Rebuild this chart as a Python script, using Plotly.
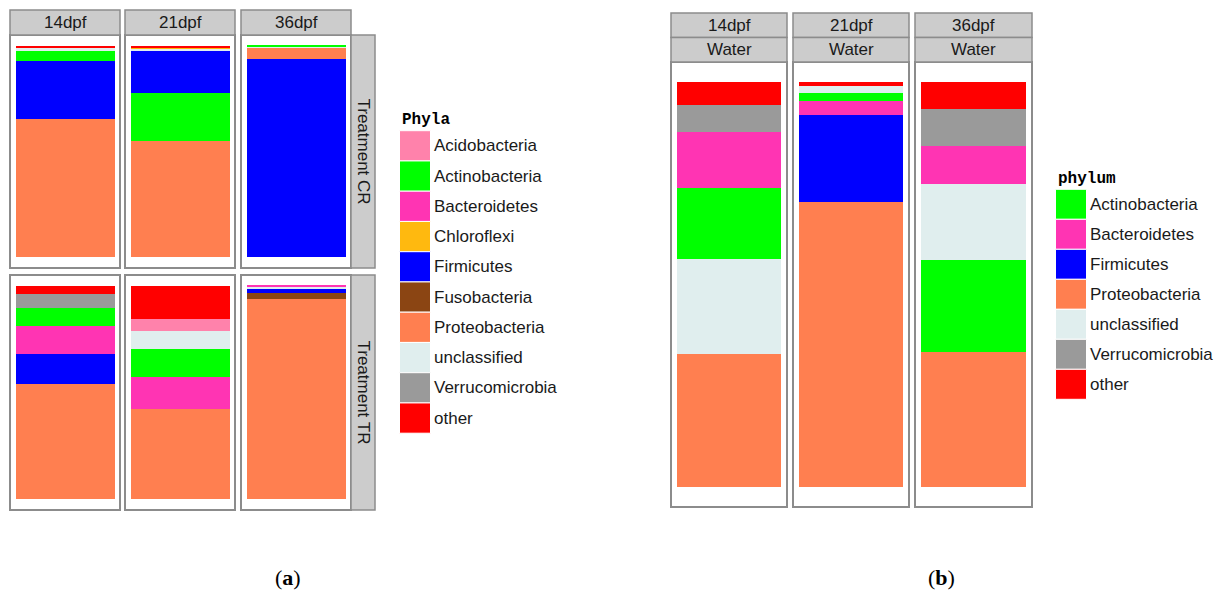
import plotly.graph_objects as go

W, H = 1220, 592

# Phylum palette and legend order
phyla_a = ["Acidobacteria", "Actinobacteria", "Bacteroidetes", "Chloroflexi", "Firmicutes",
           "Fusobacteria", "Proteobacteria", "unclassified", "Verrucomicrobia", "other"]
phyla_b = ["Actinobacteria", "Bacteroidetes", "Firmicutes", "Proteobacteria",
           "unclassified", "Verrucomicrobia", "other"]
phylum_colors = {
    "Acidobacteria": "#FF82AB",
    "Actinobacteria": "#00FF00",
    "Bacteroidetes": "#FF34B3",
    "Chloroflexi": "#FFB90F",
    "Firmicutes": "#0000FF",
    "Fusobacteria": "#8B4513",
    "Proteobacteria": "#FF7F50",
    "unclassified": "#E0EEEE",
    "Verrucomicrobia": "#9A9A9A",
    "other": "#FF0000",
}

days = ["14dpf", "21dpf", "36dpf"]
treatments = ["Treatment CR", "Treatment TR"]

# Relative abundance (%), values follow phyla_a order
cr_14dpf = [0, 5.1, 0, 0, 27.1, 0, 65.4, 1.2, 0, 1.2]
cr_21dpf = [0, 22.4, 0, 0.7, 20.2, 0, 55.0, 0.8, 0, 0.9]
cr_36dpf = [0, 0.4, 0, 0, 93.5, 0, 5.6, 0.5, 0, 0]
tr_14dpf = [0, 8.7, 12.8, 0, 14.3, 0, 53.9, 0, 6.5, 3.8]
tr_21dpf = [5.6, 13.1, 15.0, 0, 0, 0, 42.1, 8.4, 0, 15.8]
tr_36dpf = [0, 0, 0.5, 0, 1.9, 2.8, 93.9, 0.9, 0, 0]

# Relative abundance (%) in water samples, values follow phyla_b order
water_14dpf = [17.6, 13.8, 0, 32.8, 23.5, 6.7, 5.6]
water_21dpf = [2.1, 3.3, 21.5, 70.5, 1.6, 0, 1.0]
water_36dpf = [22.6, 9.4, 0, 33.4, 18.8, 9.1, 6.7]

text_col = "#1A1A1A"
strip_fill = "#CCCCCC"
frame_col = "#8C8C8C"
label_font = dict(family="Liberation Sans, Arial, sans-serif", size=17, color=text_col)

# panel boxes in pixels: (values, phyla, x0, x1, y0, y1)
cols_a = [(10, 120), (125, 235), (241, 351)]
rows_a = [(35, 268), (275, 510)]
cols_b = [(671, 787), (793, 909), (915, 1032)]
row_b = (62, 507)

panels = []
for r, row_vals in enumerate([[cr_14dpf, cr_21dpf, cr_36dpf], [tr_14dpf, tr_21dpf, tr_36dpf]]):
    for c, vals in enumerate(row_vals):
        panels.append((vals, phyla_a, cols_a[c][0], cols_a[c][1], rows_a[r][0], rows_a[r][1]))
for c, vals in enumerate([water_14dpf, water_21dpf, water_36dpf]):
    panels.append((vals, phyla_b, cols_b[c][0], cols_b[c][1], row_b[0], row_b[1]))


def stack_order(vals, names):
    """Most abundant phylum at the bottom, 'other' always on top."""
    pairs = [(n, v) for n, v in zip(names, vals) if v > 0]
    main = sorted([p for p in pairs if p[0] != "other"], key=lambda p: -p[1])
    rest = [p for p in pairs if p[0] == "other"]
    return main + rest


fig = go.Figure()
layout_axes = {}
shapes = []
annotations = []

for i, (vals, names, x0, x1, y0, y1) in enumerate(panels, start=1):
    xa = "x" if i == 1 else f"x{i}"
    ya = "y" if i == 1 else f"y{i}"
    for name, v in stack_order(vals, names):
        fig.add_trace(go.Bar(
            x=[0], y=[v], width=0.9, name=name,
            marker=dict(color=phylum_colors[name], line=dict(width=0)),
            xaxis=xa, yaxis=ya, showlegend=False,
        ))
    layout_axes[f"xaxis{'' if i == 1 else i}"] = dict(
        domain=[x0 / W, x1 / W], range=[-0.5, 0.5], visible=False,
        anchor=ya, fixedrange=True)
    layout_axes[f"yaxis{'' if i == 1 else i}"] = dict(
        domain=[1 - y1 / H, 1 - y0 / H], range=[-5, 105], visible=False,
        anchor=xa, fixedrange=True)
    shapes.append(dict(type="rect", xref="paper", yref="paper",
                       x0=x0 / W, x1=x1 / W, y0=1 - y1 / H, y1=1 - y0 / H,
                       line=dict(color=frame_col, width=2), fillcolor="rgba(0,0,0,0)",
                       layer="above"))


def strip(x0, x1, y0, y1, text, angle=0):
    shapes.append(dict(type="rect", xref="paper", yref="paper",
                       x0=x0 / W, x1=x1 / W, y0=1 - y1 / H, y1=1 - y0 / H,
                       line=dict(color=frame_col, width=1.5), fillcolor=strip_fill,
                       layer="above"))
    annotations.append(dict(xref="paper", yref="paper", x=(x0 + x1) / 2 / W,
                            y=1 - (y0 + y1) / 2 / H, text=text, showarrow=False,
                            textangle=angle, font=label_font,
                            xanchor="center", yanchor="middle"))


# facet strips, panel (a)
for (x0, x1), d in zip(cols_a, days):
    strip(x0, x1, 10, 35, d)
for (y0, y1), t in zip(rows_a, treatments):
    strip(351, 375, y0, y1, t, angle=90)

# facet strips, panel (b)
for (x0, x1), d in zip(cols_b, days):
    strip(x0, x1, 13, 37.5, d)
    strip(x0, x1, 37.5, 62, "Water")


def legend(title, names, x_key, y_title, y_first, step):
    annotations.append(dict(xref="paper", yref="paper", x=x_key / W, y=1 - y_title / H,
                            text=f"<b>{title}</b>", showarrow=False,
                            xanchor="left", yanchor="middle",
                            font=dict(family="Liberation Mono, Courier New, monospace",
                                      size=16, color="#000000")))
    for k, name in enumerate(names):
        ky0 = y_first + k * step
        ky1 = ky0 + step
        shapes.append(dict(type="rect", xref="paper", yref="paper",
                           x0=x_key / W, x1=(x_key + 31) / W,
                           y0=1 - ky1 / H, y1=1 - ky0 / H,
                           line=dict(color="#FFFFFF", width=1),
                           fillcolor=phylum_colors[name], layer="above"))
        annotations.append(dict(xref="paper", yref="paper", x=(x_key + 32) / W,
                                y=1 - (ky0 + ky1) / 2 / H, text=name, showarrow=False,
                                xanchor="left", yanchor="middle", font=label_font))


legend("Phyla", phyla_a, 399.5, 120, 130.7, 30.25)
legend("phylum", phyla_b, 1055.5, 179, 189.3, 30.0)

# sub-figure captions
cap_font = dict(family="Liberation Serif, Times New Roman, serif", size=22, color="#000000")
for xc, letter in [(288, "a"), (942, "b")]:
    annotations.append(dict(xref="paper", yref="paper", x=xc / W, y=1 - 577 / H,
                            text=f"(<b>{letter}</b>)", showarrow=False,
                            xanchor="center", yanchor="middle", font=cap_font))

fig.update_layout(
    width=W, height=H, margin=dict(l=0, r=0, t=0, b=0),
    template="none", barmode="stack", bargap=0,
    paper_bgcolor="#FFFFFF", plot_bgcolor="#FFFFFF",
    showlegend=False, shapes=shapes, annotations=annotations,
    **layout_axes,
)

fig.write_html("out.html")
